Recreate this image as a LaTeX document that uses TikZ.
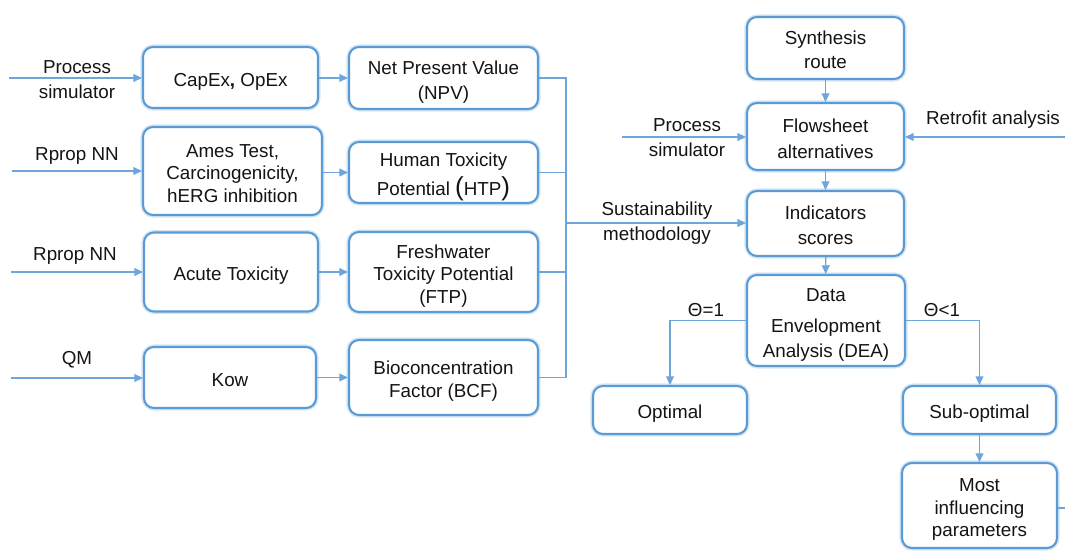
\documentclass[tikz,border=0pt]{standalone}
\usepackage{fontspec}
\setmainfont{Liberation Sans}
\usetikzlibrary{arrows.meta}
\definecolor{boxblue}{RGB}{91,155,213}
\definecolor{lineblue}{RGB}{110,165,220}
\definecolor{txt}{RGB}{20,20,20}
\newcommand\boxtop{\rule{0pt}{17pt}}
\newcommand\boxbot{\rule[-4pt]{0pt}{0pt}}
\tikzset{
  x=0.75pt, y=-0.75pt,
  box/.style 2 args={draw=boxblue, line width=1.6pt, fill=white, rounded corners=7.5pt,
    minimum width=#1*0.75pt, minimum height=#2*0.75pt, align=center, inner sep=1pt,
    text=txt, font=\fontsize{14.1}{16.8}\selectfont,
    preaction={draw=boxblue, line width=3.8pt, opacity=0.25}},
  lbl/.style={align=center, text=txt, font=\fontsize{14.1}{18.75}\selectfont, inner sep=0pt},
  conn/.style={draw=lineblue, line width=0.9pt},
  arr/.style={conn, -{Triangle[length=6.5pt,width=6pt]}},
}
\begin{document}
\begin{tikzpicture}
\useasboundingbox (0,0) rectangle (1065,552);
% left boxes
\node[box={175}{61}] (capex) at (230.5,77.5) {\boxtop CapEx{\bfseries,} OpEx\boxbot};
\node[box={179}{88}] (ames) at (232.5,171) {\boxtop Ames Test,\\Carcinogenicity,\\hERG inhibition\boxbot};
\node[box={174}{79}] (acute) at (231,272) {\boxtop Acute Toxicity\boxbot};
\node[box={172}{61}] (kow) at (230,377.5) {\boxtop Kow\boxbot};
\node[box={189}{62}, font=\fontsize{14.1}{18.75}\selectfont] (npv) at (443.5,78) {\boxtop Net Present Value\\(NPV)\boxbot};
\node[box={189}{61}, font=\fontsize{14.1}{21.5}\selectfont] (htp) at (443.5,172.5) {\boxtop Human Toxicity\\Potential {\fontsize{19.5}{19.5}\selectfont(}HTP{\fontsize{19.5}{19.5}\selectfont)}\boxbot};
\node[box={189}{80}] (ftp) at (443.5,272) {\boxtop Freshwater\\Toxicity Potential\\(FTP)\boxbot};
\node[box={189}{75}, font=\fontsize{14.1}{17.5}\selectfont] (bcf) at (443.5,377.5) {\boxtop Bioconcentration\\Factor (BCF)\boxbot};
% right boxes
\node[box={157}{62}, font=\fontsize{14.1}{17.5}\selectfont] (syn) at (825.5,48) {\boxtop Synthesis\\route\boxbot};
\node[box={157}{67}, font=\fontsize{14.1}{19.5}\selectfont] (flow) at (825.5,136.5) {\boxtop Flowsheet\\alternatives\boxbot};
\node[box={157}{65}, font=\fontsize{14.1}{18.75}\selectfont] (ind) at (825.5,223.5) {\boxtop Indicators\\scores\boxbot};
\node[box={158}{91}, font=\fontsize{14.1}{18.75}\selectfont] (dea) at (826,320.5) {\boxtop Data\\[4.5pt]Envelopment\\Analysis (DEA)\boxbot};
\node[box={154}{48}] (opt) at (670,410) {\boxtop Optimal\boxbot};
\node[box={153}{48}] (sub) at (979.5,410) {\boxtop Sub-optimal\boxbot};
\node[box={155}{85}] (most) at (979.5,505.5) {\boxtop Most\\influencing\\parameters\boxbot};
% free ends
\coordinate (in1) at (9,78);
\coordinate (in2) at (12,171);
\coordinate (in3) at (11,272);
\coordinate (in4) at (11,378);
\coordinate (in5) at (622,137);
\coordinate (in6) at (1065,137);
\coordinate (out1) at (1065,508);
\coordinate (bus) at (566,223);
% labels
\node[lbl] (l1) at (77,80) {Process\\simulator};
\node[lbl] (l2) at (77,156) {Rprop NN};
\node[lbl] (l3) at (75,256) {Rprop NN};
\node[lbl] (l4) at (77,360) {QM};
\node[lbl] (l5) at (687,138) {Process\\simulator};
\node[lbl] (l6) at (993,120) {Retrofit analysis};
\node[lbl] (l7) at (657,223) {Sustainability\\methodology};
\node[lbl] (l8) at (706,310) {Θ=1};
\node[lbl] (l9) at (942,310) {Θ<1};
% connectors left
\draw[arr] (in1) -- (in1 -| capex.west);
\draw[arr] (in2) -- (in2 -| ames.west);
\draw[arr] (in3) -- (in3 -| acute.west);
\draw[arr] (in4) -- (in4 -| kow.west);
\draw[arr] (capex.east |- npv) -- (npv.west);
\draw[arr] (ames.east |- htp.west) -- (htp.west);
\draw[arr] (acute.east |- ftp.west) -- (ftp.west);
\draw[arr] (kow.east |- bcf.west) -- (bcf.west);
\draw[conn] (npv.east) -| (bus);
\draw[conn] (bcf.east) -| (bus);
\draw[conn] (htp.east) -- (htp.east -| bus);
\draw[conn] (ftp.east) -- (ftp.east -| bus);
\draw[arr] (bus) -- (bus -| ind.west);
% connectors right
\draw[arr] (syn) -- (flow);
\draw[arr] (flow) -- (ind);
\draw[arr] (ind) -- (dea);
\draw[arr] (in5) -- (in5 -| flow.west);
\draw[arr] (in6) -- (in6 -| flow.east);
\draw[arr] (dea.west) -| (opt.north);
\draw[arr] (dea.east) -| (sub.north);
\draw[arr] (sub) -- (most);
\draw[conn] (most.east |- out1) -- (out1);
\end{tikzpicture}
\end{document}
